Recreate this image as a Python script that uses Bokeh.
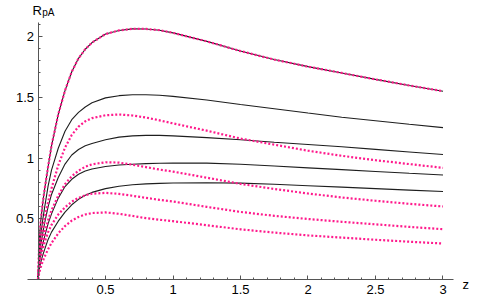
from bokeh.plotting import figure
from bokeh.models import FixedTicker, NumeralTickFormatter, Label, Range1d
from bokeh.embed import file_html
from bokeh.resources import INLINE

# ---- data ----
z = [0, 0.01, 0.02, 0.035, 0.05, 0.075, 0.1, 0.15, 0.2, 0.25, 0.3, 0.35, 0.4, 0.5,
     0.6, 0.7, 0.8, 0.9, 1.0, 1.25, 1.5, 1.75, 2.0, 2.25, 2.5, 2.75, 3.0]

black1 = [0, 0.33, 0.48, 0.63, 0.75, 0.93, 1.10, 1.36, 1.555, 1.71, 1.82, 1.895, 1.95, 2.02,
          2.05, 2.063, 2.062, 2.052, 2.03, 1.96, 1.88, 1.81, 1.752, 1.70, 1.647, 1.597, 1.55]
black2 = [0, 0.24, 0.36, 0.49, 0.60, 0.77, 0.90, 1.08, 1.22, 1.315, 1.375, 1.42, 1.455, 1.495,
          1.513, 1.52, 1.521, 1.516, 1.507, 1.478, 1.44, 1.405, 1.37, 1.336, 1.307, 1.278, 1.25]
black3 = [0, 0.19, 0.28, 0.38, 0.47, 0.60, 0.70, 0.84, 0.95, 1.025, 1.07, 1.10, 1.12, 1.15,
          1.172, 1.182, 1.186, 1.186, 1.182, 1.168, 1.15, 1.13, 1.111, 1.092, 1.071, 1.05, 1.029]
black4 = [0, 0.14, 0.21, 0.29, 0.36, 0.46, 0.54, 0.67, 0.765, 0.825, 0.866, 0.893, 0.91, 0.93,
          0.942, 0.949, 0.954, 0.957, 0.959, 0.958, 0.949, 0.934, 0.919, 0.904, 0.889, 0.874, 0.86]
black5 = [0, 0.09, 0.14, 0.20, 0.25, 0.33, 0.39, 0.48, 0.555, 0.615, 0.66, 0.693, 0.717, 0.748,
          0.768, 0.78, 0.787, 0.791, 0.794, 0.796, 0.793, 0.784, 0.772, 0.76, 0.748, 0.736, 0.724]

magenta1 = [0, 0.33, 0.48, 0.63, 0.75, 0.93, 1.10, 1.36, 1.555, 1.71, 1.82, 1.895, 1.95, 2.02,
            2.05, 2.063, 2.062, 2.052, 2.03, 1.96, 1.88, 1.81, 1.752, 1.70, 1.647, 1.597, 1.55]
magenta2 = [0, 0.21, 0.31, 0.42, 0.51, 0.64, 0.75, 0.94, 1.085, 1.19, 1.258, 1.302, 1.328, 1.352,
            1.358, 1.35, 1.333, 1.31, 1.285, 1.225, 1.16, 1.11, 1.06, 1.018, 0.982, 0.95, 0.919]
magenta3 = [0, 0.16, 0.24, 0.32, 0.39, 0.49, 0.57, 0.69, 0.785, 0.85, 0.895, 0.928, 0.948, 0.965,
            0.962, 0.945, 0.925, 0.905, 0.888, 0.838, 0.787, 0.745, 0.708, 0.675, 0.648, 0.623, 0.601]
magenta4 = [0, 0.12, 0.18, 0.25, 0.31, 0.39, 0.45, 0.535, 0.595, 0.64, 0.672, 0.694, 0.706, 0.713,
            0.705, 0.689, 0.672, 0.656, 0.642, 0.598, 0.556, 0.524, 0.498, 0.475, 0.454, 0.433, 0.414]
magenta5 = [0, 0.06, 0.10, 0.15, 0.19, 0.25, 0.30, 0.38, 0.44, 0.485, 0.515, 0.535, 0.547, 0.552,
            0.541, 0.523, 0.505, 0.492, 0.48, 0.447, 0.413, 0.386, 0.363, 0.345, 0.327, 0.311, 0.296]

x_ticks = [0.5, 1, 1.5, 2, 2.5, 3]
y_ticks = [0.5, 1, 1.5, 2]
x_minor = [round(0.1 * i, 1) for i in range(1, 31)]
y_minor = [round(0.1 * i, 1) for i in range(1, 22)]

blacks = [black1, black2, black3, black4, black5]
magentas = [magenta1, magenta2, magenta3, magenta4, magenta5]

# ---- figure ----
p = figure(width=480, height=297, output_backend="svg", toolbar_location=None,
           x_range=Range1d(-0.2778, 3.2778), y_range=Range1d(-0.1481, 2.2963),
           min_border_left=0, min_border_right=0, min_border_top=0, min_border_bottom=0)
p.outline_line_color = None
p.xgrid.visible = False
p.ygrid.visible = False
p.background_fill_color = "white"
p.border_fill_color = "white"

for ax in (p.xaxis[0], p.yaxis[0]):
    ax.axis_line_color = "#555555"
    ax.major_tick_line_color = "#555555"
    ax.minor_tick_line_color = "#555555"
    ax.major_tick_in = 4
    ax.major_tick_out = 0
    ax.minor_tick_in = 2
    ax.minor_tick_out = 0
    ax.major_label_text_font = "Liberation Sans"
    ax.major_label_text_font_size = "13px"
    ax.major_label_text_color = "black"
    ax.formatter = NumeralTickFormatter(format="0.[0]")
    ax.fixed_location = 0

p.xaxis[0].ticker = FixedTicker(ticks=x_ticks, minor_ticks=x_minor)
p.yaxis[0].ticker = FixedTicker(ticks=y_ticks, minor_ticks=y_minor)
p.xaxis[0].bounds = (-0.08, 3.08)
p.yaxis[0].bounds = (0, 2.115)
p.xaxis[0].major_label_standoff = 5
p.yaxis[0].major_label_standoff = 4

for b in blacks:
    p.line(z, b, line_color="#1e1e1e", line_width=1.1)
for m in magentas:
    p.line(z, m, line_color="#ff1a8c", line_width=2.2, line_dash="2 2")

p.add_layout(Label(x=-0.041, y=2.214, text="R", text_font="Liberation Sans",
                   text_font_size="13px", text_color="black", text_baseline="alphabetic"))
p.add_layout(Label(x=0.031, y=2.197, text="pA", text_font="Liberation Sans",
                   text_font_size="10px", text_color="black", text_baseline="alphabetic"))
p.add_layout(Label(x=3.144, y=-0.04, text="z", text_font="Liberation Sans",
                   text_font_size="13px", text_color="black", text_baseline="alphabetic"))

open("out.html", "w").write(file_html(p, INLINE))
